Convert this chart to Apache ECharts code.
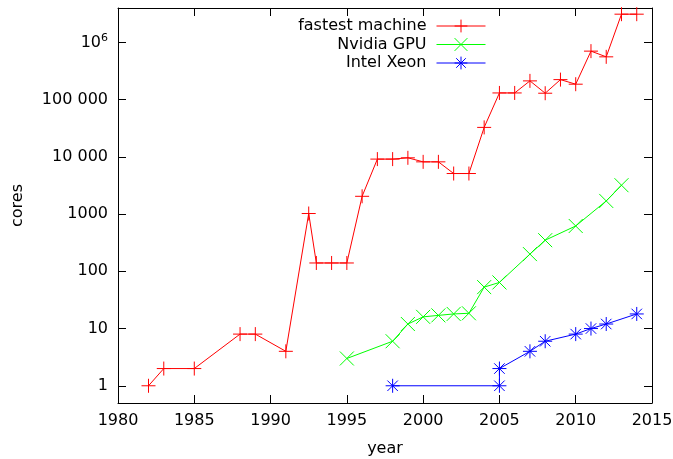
<!DOCTYPE html>
<html>
<head>
<meta charset="utf-8">
<script src="https://cdn.jsdelivr.net/npm/echarts@6/dist/echarts.min.js"></script>
<style>
  html, body { margin: 0; padding: 0; background: #fff; }
  #chart { width: 673px; height: 459px; }
</style>
</head>
<body>
<div id="chart"></div>
<script>
// fastest machine (red +)
var machineYears = [1982, 1983, 1985, 1988, 1989, 1991, 1992.5, 1993, 1994, 1995, 1996, 1997, 1998, 1999, 2000,
  2001, 2002, 2003, 2004, 2005, 2006, 2007, 2008, 2009, 2010, 2011, 2012, 2013, 2014];
var machineCores = [1, 2, 2, 8, 8, 4, 1024, 140, 140, 140, 2048, 9152, 9152, 9632, 8192,
  8192, 5120, 5120, 32768, 131072, 131072, 212992, 129600, 224162, 186368, 705024, 560640, 3120000, 3120000];

// Nvidia GPU (green x)
var gpuYears = [1995, 1998, 1999, 2000, 2001, 2002, 2003, 2004, 2005, 2007, 2008, 2010, 2012, 2013];
var gpuCores = [3, 6, 12, 16, 17, 18, 18.5, 53, 64, 200, 350, 620, 1700, 3200];

// Intel Xeon (blue *)
var xeonYears = [1998, 2005, 2005, 2007, 2008, 2010, 2011, 2012, 2014];
var xeonCores = [1, 1, 2, 4, 6, 8, 10, 12, 18];

var seriesNames = ['fastest machine', 'Nvidia GPU', 'Intel Xeon'];
var yTickLabels = { 1: '1', 10: '10', 100: '100', 1000: '1000', 10000: '10 000', 100000: '100 000', 1000000: '10{sup|6}' };

var FONT = 'DejaVu Sans';
var FS = 16;

function pairs(xs, ys) {
  return xs.map(function (x, i) { return [x, ys[i]]; });
}

var plusPath = 'path://M0,6L12,6M6,0L6,12';
var crossPath = 'path://M0,0L12,12M0,12L12,0';
var starPath = 'path://M0,6L12,6M6,0L6,12M1.5,1.5L10.5,10.5M1.5,10.5L10.5,1.5';

function mkSeries(name, data, symbol, color) {
  return {
    name: name,
    type: 'line',
    data: data,
    symbol: symbol,
    symbolSize: 14,
    showAllSymbol: true,
    lineStyle: { color: color, width: 1 },
    itemStyle: { color: color, borderColor: color, borderWidth: 1 },
    emphasis: { disabled: true }
  };
}

var axisLineStyle = { color: '#000', width: 1 };

var option = {
  animation: false,
  backgroundColor: '#fff',
  grid: { left: 118, right: 21, top: 8, bottom: 56, containLabel: false, outerBoundsMode: 'none' },
  legend: {
    orient: 'vertical',
    align: 'right',
    right: 182,
    top: 13,
    itemWidth: 49,
    itemHeight: 16,
    itemGap: 2.5,
    selectedMode: false,
    data: seriesNames,
    lineStyle: { width: 1 },
    itemStyle: { borderWidth: 1 },
    textStyle: { fontFamily: FONT, fontSize: FS, color: '#000', padding: [0, 5, 0, 0] }
  },
  xAxis: [{
    type: 'value',
    min: 1980, max: 2015, interval: 5,
    position: 'bottom',
    name: 'year',
    nameLocation: 'middle',
    nameGap: 38,
    nameTextStyle: { fontFamily: FONT, fontSize: FS, color: '#000' },
    axisLine: { show: true, onZero: false, lineStyle: axisLineStyle },
    axisTick: { show: true, inside: true, length: 8, lineStyle: axisLineStyle },
    axisLabel: {
      fontFamily: FONT, fontSize: FS, color: '#000', margin: 10,
      formatter: function (v) { return String(v); }
    },
    splitLine: { show: false }
  }, {
    type: 'value',
    min: 1980, max: 2015, interval: 5,
    position: 'top',
    axisLine: { show: true, onZero: false, lineStyle: axisLineStyle },
    axisTick: { show: true, inside: true, length: 8, lineStyle: axisLineStyle },
    axisLabel: { show: false },
    splitLine: { show: false }
  }],
  yAxis: [{
    type: 'log',
    logBase: 10,
    min: 0.5, max: 4e6,
    position: 'left',
    name: 'cores',
    nameLocation: 'middle',
    nameGap: 92,
    nameTextStyle: { fontFamily: FONT, fontSize: FS, color: '#000' },
    axisLine: { show: true, onZero: false, lineStyle: axisLineStyle },
    axisTick: { show: true, inside: true, length: 8, lineStyle: axisLineStyle },
    axisLabel: {
      fontFamily: FONT, fontSize: FS, color: '#000', margin: 10,
      showMinLabel: false, showMaxLabel: false,
      formatter: function (v) {
        var k = Math.round(v);
        return yTickLabels[k] !== undefined && Math.abs(v - k) < 1e-6 ? yTickLabels[k] : '';
      },
      rich: {
        sup: { fontFamily: FONT, fontSize: 11, color: '#000', verticalAlign: 'top', padding: [0, 0, 8, 0] }
      }
    },
    splitLine: { show: false },
    minorTick: { show: false }
  }, {
    type: 'log',
    logBase: 10,
    min: 0.5, max: 4e6,
    position: 'right',
    axisLine: { show: true, onZero: false, lineStyle: axisLineStyle },
    axisTick: { show: true, inside: true, length: 8, lineStyle: axisLineStyle },
    axisLabel: { show: false },
    splitLine: { show: false }
  }],
  series: [
    mkSeries(seriesNames[0], pairs(machineYears, machineCores), plusPath, '#ff0000'),
    mkSeries(seriesNames[1], pairs(gpuYears, gpuCores), crossPath, '#00ff00'),
    mkSeries(seriesNames[2], pairs(xeonYears, xeonCores), starPath, '#0000ff')
  ]
};

var chart = echarts.init(document.getElementById('chart'));
chart.setOption(option);
</script>
</body>
</html>
